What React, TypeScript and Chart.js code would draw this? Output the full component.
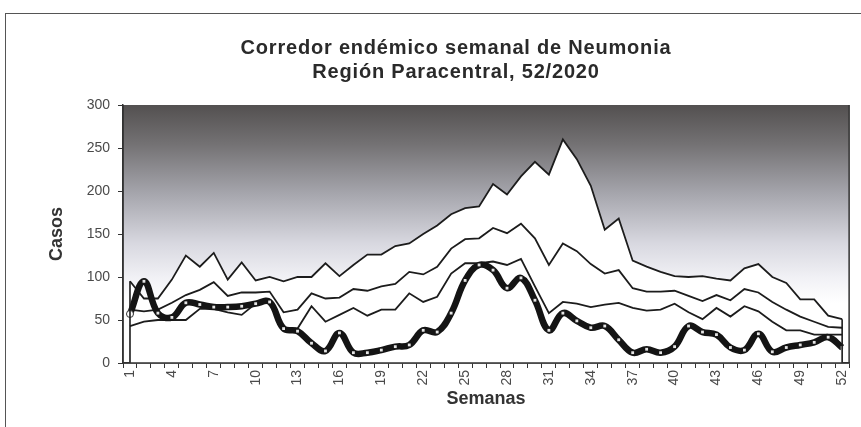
import React, { useEffect, useRef } from "react";
import { Chart, registerables } from "chart.js";

Chart.register(...registerables);

const TITLE_LINES = ["Corredor endémico semanal de Neumonia", "Región Paracentral, 52/2020"];
const Y_TITLE = "Casos";
const X_TITLE = "Semanas";

const weeks = [
  "1", "2", "3", "4", "5", "6", "7", "8", "9", "10", "11", "12", "13",
  "14", "15", "16", "17", "18", "19", "20", "21", "22", "23", "24", "25", "26",
  "27", "28", "29", "30", "31", "32", "33", "34", "35", "36", "37", "38", "39",
  "40", "41", "42", "43", "44", "45", "46", "47", "48", "49", "50", "51", "52",
];

// current year (2020) cases
const cases2020 = [
  57, 95, 58, 53, 70, 68, 65, 65, 66, 69, 71, 40, 37,
  23, 14, 35, 12, 12, 15, 19, 21, 38, 36, 58, 96, 114,
  108, 87, 99, 73, 38, 58, 49, 41, 43, 27, 12, 16, 12,
  19, 43, 36, 33, 18, 15, 34, 13, 18, 21, 24, 30, 18,
];

// lower corridor line
const lowerLine = [
  43, 48, 50, 50, 50, 63, 63, 59, 56, 69, 70, 40, 40,
  66, 48, 56, 64, 55, 62, 62, 81, 71, 77, 104, 116, 116,
  118, 114, 121, 89, 58, 71, 69, 65, 68, 70, 64, 61, 62,
  69, 59, 51, 64, 54, 66, 60, 48, 38, 38, 33, 33, 33,
];

// middle corridor line
const middleLine = [
  62, 60, 62, 70, 79, 85, 94, 78, 82, 82, 83, 59, 62,
  81, 75, 76, 86, 84, 89, 92, 106, 103, 112, 133, 144, 145,
  157, 151, 162, 145, 114, 139, 130, 115, 104, 108, 87, 83, 83,
  84, 78, 72, 79, 73, 86, 82, 71, 62, 54, 48, 42, 41,
];

// upper corridor line
const upperLine = [
  95, 75, 75, 97, 125, 112, 128, 97, 117, 96, 100, 95, 100,
  100, 116, 101, 114, 126, 126, 136, 139, 150, 160, 173, 180, 182,
  208, 196, 217, 234, 219, 260, 237, 206, 155, 168, 119, 112, 106,
  101, 100, 101, 98, 96, 110, 115, 100, 93, 74, 74, 55, 51,
];

const Y_MIN = 0;
const Y_MAX = 300;
const Y_STEP = 50;

const FONT = '"Liberation Sans", Arial, Helvetica, sans-serif';

const backgroundPlugin = {
  id: "bgGradient",
  beforeDraw(chart: any) {
    const { ctx, chartArea } = chart;
    if (!chartArea) return;
    const { left, right, top, bottom } = chartArea;
    const yScale = chart.scales.y;
    const gEnd = yScale.getPixelForValue(70);
    const g = ctx.createLinearGradient(0, top, 0, gEnd);
    g.addColorStop(0, "#535050");
    g.addColorStop(0.2, "#747274");
    g.addColorStop(0.45, "#a6a6ad");
    g.addColorStop(0.7, "#d8d8e0");
    g.addColorStop(0.88, "#f2f2f6");
    g.addColorStop(1, "#ffffff");
    ctx.save();
    ctx.fillStyle = g;
    ctx.fillRect(left, top, right - left, bottom - top);
    ctx.restore();
  },
};

const framePlugin = {
  id: "frameLines",
  afterDatasetsDraw(chart: any) {
    const { ctx, chartArea } = chart;
    const xs = chart.scales.x;
    const ys = chart.scales.y;
    const y0 = ys.getPixelForValue(0);
    ctx.save();
    ctx.strokeStyle = "#1c1c1c";
    ctx.lineWidth = 1.6;
    const first = 0;
    const last = upperLine.length - 1;
    ctx.beginPath();
    ctx.moveTo(xs.getPixelForValue(first), y0);
    ctx.lineTo(xs.getPixelForValue(first), ys.getPixelForValue(upperLine[first]));
    ctx.moveTo(xs.getPixelForValue(last), y0);
    ctx.lineTo(xs.getPixelForValue(last), ys.getPixelForValue(upperLine[last]));
    ctx.stroke();
    ctx.strokeStyle = "#333";
    ctx.lineWidth = 1.5;
    ctx.beginPath();
    ctx.moveTo(chartArea.left, chartArea.top);
    ctx.lineTo(chartArea.left, chartArea.bottom);
    ctx.lineTo(chartArea.right, chartArea.bottom);
    ctx.lineTo(chartArea.right, chartArea.top);
    ctx.stroke();
    ctx.restore();
  },
};

const titlePlugin = {
  id: "mainTitle",
  afterDraw(chart: any) {
    const { ctx } = chart;
    ctx.save();
    ctx.font = `bold 20px ${FONT}`;
    try {
      (ctx as any).letterSpacing = "0.8px";
    } catch (e) {}
    ctx.fillStyle = "#2a2a2a";
    ctx.textAlign = "center";
    ctx.textBaseline = "middle";
    TITLE_LINES.forEach((t, i) => ctx.fillText(t, 456, 48 + i * 24));
    ctx.restore();
  },
};

export default function App() {
  const canvasRef = useRef<HTMLCanvasElement | null>(null);

  useEffect(() => {
    const canvas = canvasRef.current;
    if (!canvas) return;
    Chart.defaults.font.family = FONT;
    const chart = new Chart(canvas, {
      type: "line",
      data: {
        labels: weeks,
        datasets: [
          {
            label: "2020",
            data: cases2020,
            borderColor: "#141414",
            borderWidth: 6.5,
            tension: 0.4,
            pointStyle: (c: any) => (c.dataIndex === 0 ? "circle" : "rect"),
            pointRadius: (c: any) => (c.dataIndex === 0 ? 3.5 : 2),
            pointBackgroundColor: (c: any) => (c.dataIndex === 0 ? "#ffffff" : "#e6e6e6"),
            pointBorderColor: "#333",
            pointBorderWidth: (c: any) => (c.dataIndex === 0 ? 1 : 0),
            fill: false,
          },
          {
            label: "Inferior",
            data: lowerLine,
            borderColor: "#1c1c1c",
            borderWidth: 1.8,
            pointRadius: 0,
            tension: 0,
            fill: false,
          },
          {
            label: "Media",
            data: middleLine,
            borderColor: "#1c1c1c",
            borderWidth: 1.8,
            pointRadius: 0,
            tension: 0,
            fill: false,
          },
          {
            label: "Superior",
            data: upperLine,
            borderColor: "#1c1c1c",
            borderWidth: 1.8,
            pointRadius: 0,
            tension: 0,
            fill: "origin",
            backgroundColor: "#ffffff",
          },
        ],
      },
      options: {
        responsive: false,
        animation: false,
        devicePixelRatio: 1,
        layout: { padding: { left: 40, right: 6, top: 105, bottom: 0 } },
        plugins: {
          legend: { display: false },
          tooltip: { enabled: false },
          title: { display: false },
        },
        scales: {
          x: {
            type: "category",
            offset: true,
            grid: {
              offset: true,
              drawOnChartArea: false,
              drawTicks: true,
              tickLength: 5,
              color: "#333",
            },
            border: { display: true, color: "#333", width: 1.5 },
            ticks: {
              autoSkip: false,
              minRotation: 90,
              maxRotation: 90,
              padding: 2,
              color: "#4a4a4a",
              font: { size: 14 },
              callback: (_v: any, i: number) => (i % 3 === 0 ? weeks[i] : ""),
            },
            title: {
              display: true,
              text: X_TITLE,
              color: "#333",
              font: { size: 18, weight: "bold" },
              padding: { top: 0, bottom: 17 },
            },
            afterFit: (scale: any) => {
              scale.height = 64;
            },
          },
          y: {
            min: Y_MIN,
            max: Y_MAX,
            grid: {
              drawOnChartArea: false,
              drawTicks: true,
              tickLength: 5,
              color: "#333",
            },
            border: { display: true, color: "#333", width: 1.5 },
            ticks: {
              stepSize: Y_STEP,
              padding: 8,
              color: "#4a4a4a",
              font: { size: 14 },
            },
            title: {
              display: true,
              text: Y_TITLE,
              color: "#333",
              font: { size: 18, weight: "bold" },
              padding: { top: 6, bottom: 0 },
            },
            afterFit: (scale: any) => {
              scale.width = 83;
            },
          },
        },
      },
      plugins: [backgroundPlugin, framePlugin, titlePlugin],
    });
    return () => chart.destroy();
  }, []);

  return (
    <div
      style={{
        position: "fixed",
        left: 0,
        top: 0,
        width: 861,
        height: 427,
        overflow: "hidden",
        background: "#fff",
      }}
    >
      <div
        style={{
          position: "absolute",
          left: 5,
          top: 13,
          width: 900,
          height: 500,
          borderTop: "1.5px solid #555",
          borderLeft: "1.5px solid #555",
        }}
      />
      <canvas
        ref={canvasRef}
        width={861}
        height={427}
        style={{ position: "absolute", left: 0, top: 0, width: 861, height: 427 }}
      />
    </div>
  );
}
